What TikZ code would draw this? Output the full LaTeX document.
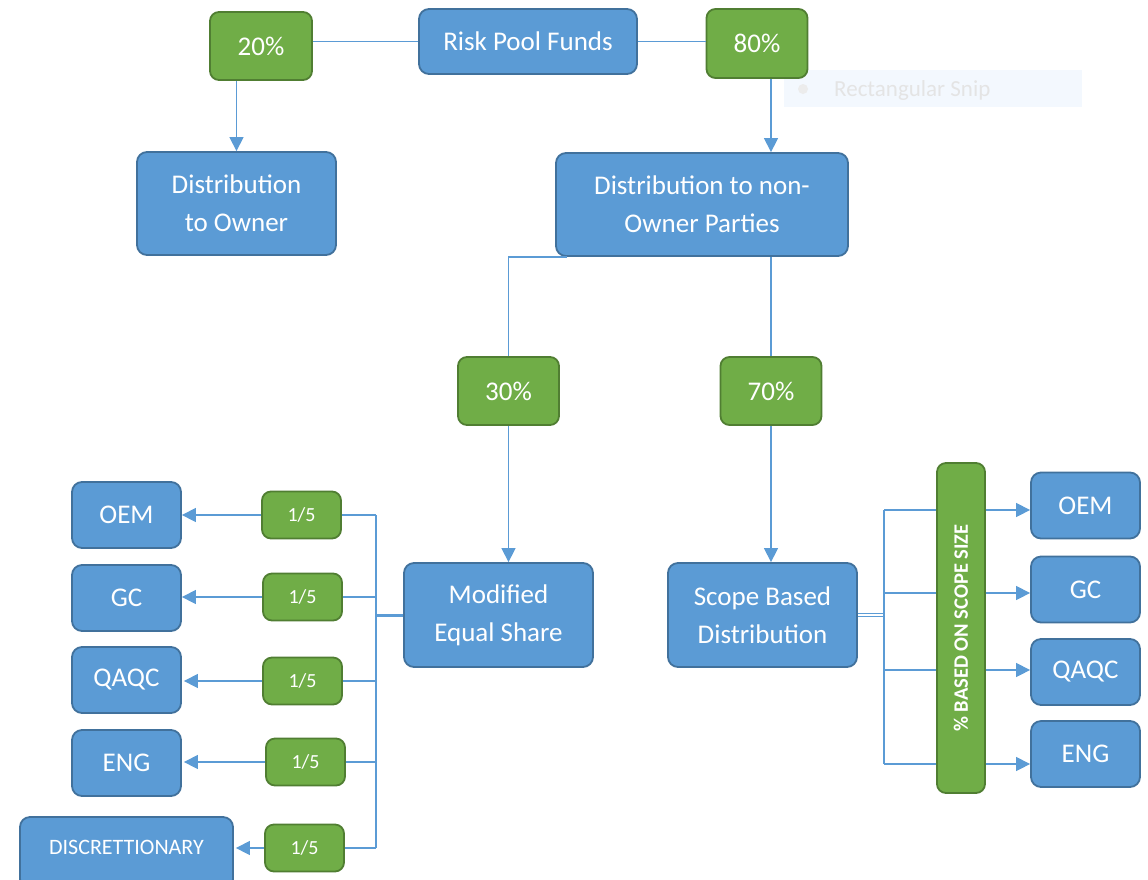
\documentclass[tikz,border=0pt]{standalone}
\usepackage{fontspec}
\setmainfont{Carlito}
\usetikzlibrary{arrows.meta}
\definecolor{blfill}{HTML}{5B9BD5}
\definecolor{bldraw}{HTML}{41719C}
\definecolor{grfill}{HTML}{70AD47}
\definecolor{grdraw}{HTML}{507E32}
\definecolor{conn}{HTML}{5B9BD5}
\definecolor{snipbg}{HTML}{F3F8FE}
\definecolor{sniptx}{HTML}{E4E4E4}
\begin{document}
\begin{tikzpicture}[x=1pt,y=-1pt,
  bluebox/.style={rectangle, rounded corners=10pt, fill=blfill, draw=bldraw, line width=1.8pt,
    text=white, align=center, inner sep=0pt, font=\fontsize{27}{38}\selectfont},
  greenbox/.style={rectangle, rounded corners=9pt, fill=grfill, draw=grdraw, line width=1.8pt,
    text=white, align=center, inner sep=0pt, font=\fontsize{27}{32}\selectfont},
  fifth/.style={greenbox, minimum width=79pt, minimum height=47pt, font=\fontsize{20}{22}\selectfont},
  leftbox/.style={bluebox, minimum width=109pt, minimum height=66pt},
  rightbox/.style={bluebox, minimum width=109pt, minimum height=66pt},
  link/.style={draw=conn, line width=1.3pt},
  arrowlink/.style={link, -{Triangle[width=14pt,length=14pt]}},
]
\useasboundingbox (0,0) rectangle (1148,879);
\clip (0,0) rectangle (1148,879);

% faint screenshot artifact
\node (snip) [fill=snipbg, minimum width=298pt, minimum height=37pt, anchor=north west, inner sep=0pt] at (784,70) {};
\node (snipdot) [circle, fill=sniptx!70, minimum size=10pt, inner sep=0pt] at (803,89) {};
\node (sniptext) [anchor=west, text=sniptx, font=\fontsize{23}{26}\selectfont, inner sep=0pt] at (834,90) {Rectangular Snip};

% top level
\node (rpf) [bluebox, minimum width=218pt, minimum height=65pt] at (528,41.5) {Risk Pool Funds};
\node (p20) [greenbox, minimum width=102pt, minimum height=68pt] at (261,46) {20\%};
\node (p80) [greenbox, minimum width=101pt, minimum height=69pt] at (757,43.5) {80\%};
\node (owner) [bluebox, minimum width=199pt, minimum height=103pt] at (236.5,203.5) {Distribution\\to Owner};
\node (nonowner) [bluebox, minimum width=292pt, minimum height=103pt] at (702,204.5) {Distribution to non-\\Owner Parties};

\node (p30) [greenbox, minimum width=101pt, minimum height=68pt] at (508.5,391) {30\%};
\node (p70) [greenbox, minimum width=101pt, minimum height=68pt] at (771,391) {70\%};

\node (mes) [bluebox, minimum width=189pt, minimum height=104pt] at (498.5,615) {Modified\\Equal Share};
\node (scope) [bluebox, minimum width=189pt, minimum height=104pt] at (762.5,615) {Scope Based\\Distribution};

% left branch boxes
\node (oemL) [leftbox] at (126.5,515) {OEM};
\node (gcL) [leftbox] at (126.5,598) {GC};
\node (qaqcL) [leftbox] at (126.5,680) {QAQC};
\node (engL) [leftbox] at (126.5,763) {ENG};
\node (disc) [bluebox, minimum width=213pt, minimum height=72pt, font=\fontsize{22}{24}\selectfont] at (126.5,853) {\raisebox{11pt}{DISCRETTIONARY}};

\node (f1) [fifth] at (301.5,515) {\raisebox{-3pt}{1/5}};
\node (f2) [fifth] at (302.5,597) {\raisebox{-3pt}{1/5}};
\node (f3) [fifth] at (302.5,681) {\raisebox{-3pt}{1/5}};
\node (f4) [fifth] at (305.5,762) {\raisebox{-3pt}{1/5}};
\node (f5) [fifth] at (304.5,848) {\raisebox{-3pt}{1/5}};

% right branch
\node (bar) [greenbox, minimum width=48pt, minimum height=330pt] at (961,628) {};
\node (bartext) [rotate=90, text=white, inner sep=0pt, font=\bfseries\fontsize{20.5}{22}\selectfont] at (bar.center) {\% BASED ON SCOPE SIZE};

\node (oemR) [rightbox] at (1085.5,505.5) {OEM};
\node (gcR) [rightbox] at (1085.5,589.5) {GC};
\node (qaqcR) [rightbox] at (1085.5,672) {QAQC};
\node (engR) [rightbox] at (1085.5,754) {ENG};

% trunk coordinates
\coordinate (ltop) at (376,515);
\coordinate (lbot) at (376,848);
\coordinate (r1) at (884,510);
\coordinate (r2) at (884,593);
\coordinate (r3) at (884,670);
\coordinate (r4) at (884,764);

% top connectors
\draw[link] (rpf.west) -- (rpf.west -| p20.east);
\draw[link] (rpf.east) -- (rpf.east -| p80.west);
\draw[arrowlink] (owner.north |- p20.south) -- (owner.north);
\draw[arrowlink] (p80.south -| p70) -- (nonowner.north -| p70);

\draw[link] ([xshift=12pt]nonowner.south west) -| (p30.north);
\draw[link] (nonowner.south -| p70) -- (p70.north);
\draw[arrowlink] (p30.south) -- (mes.north -| p30);
\draw[arrowlink] (p70.south) -- (scope.north -| p70);

% left distribution
\draw[link] (ltop) -- (lbot);
\draw[draw=conn, line width=3pt] (mes.west) -- (mes.west -| ltop);
\draw[link] (ltop) -- (f1.east);
\draw[link] (f2.east -| ltop) -- (f2.east);
\draw[link] (f3.east -| ltop) -- (f3.east);
\draw[link] (f4.east -| ltop) -- (f4.east);
\draw[link] (lbot) -- (f5.east);
\draw[arrowlink] (f1.west) -- (f1.west -| oemL.east);
\draw[arrowlink] (f2.west) -- (f2.west -| gcL.east);
\draw[arrowlink] (f3.west) -- ([xshift=2pt]f3.west -| qaqcL.east);
\draw[arrowlink] (f4.west) -- ([xshift=2pt]f4.west -| engL.east);
\draw[arrowlink] (f5.west) -- ([xshift=2pt]f5.west -| disc.east);

% right distribution
\draw[draw=conn, line width=0.9pt, double=white, double distance=1.6pt] (scope.east) -- (scope.east -| r1);
\draw[link] (r1) -- (r4);
\draw[link] (r1) -- (r1 -| bar.west);
\draw[link] (r2) -- (r2 -| bar.west);
\draw[link] (r3) -- (r3 -| bar.west);
\draw[link] (r4) -- (r4 -| bar.west);
\draw[arrowlink] (r1 -| bar.east) -- (r1 -| oemR.west);
\draw[arrowlink] (r2 -| bar.east) -- (r2 -| gcR.west);
\draw[arrowlink] (r3 -| bar.east) -- (r3 -| qaqcR.west);
\draw[arrowlink] (r4 -| bar.east) -- (r4 -| engR.west);
\end{tikzpicture}
\end{document}
